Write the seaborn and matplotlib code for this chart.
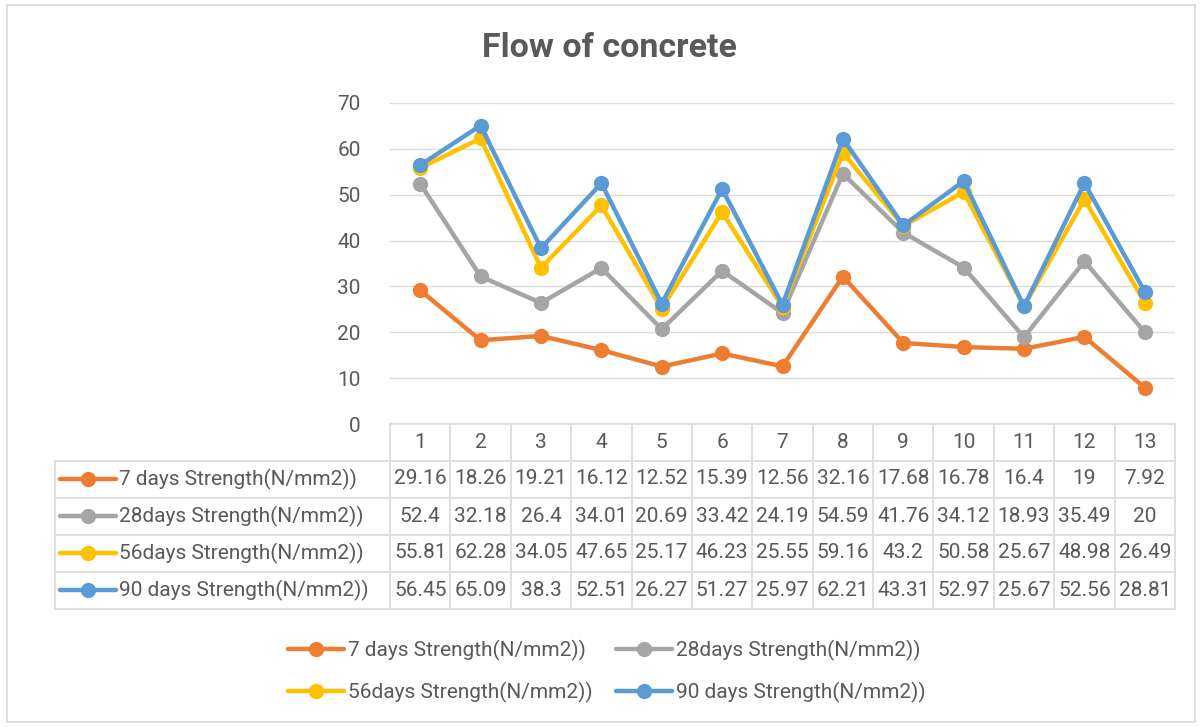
import numpy as np
import pandas as pd
import matplotlib
matplotlib.use("Agg")
import matplotlib.pyplot as plt
from matplotlib.lines import Line2D
from matplotlib.patches import Rectangle
import seaborn as sns

categories = [str(i) for i in range(1, 14)]
series_names = ["7 days Strength(N/mm2))", "28days Strength(N/mm2))",
                "56days Strength(N/mm2))", "90 days Strength(N/mm2))"]
s7 = [29.16, 18.26, 19.21, 16.12, 12.52, 15.39, 12.56, 32.16, 17.68, 16.78, 16.4, 19, 7.92]
s28 = [52.4, 32.18, 26.4, 34.01, 20.69, 33.42, 24.19, 54.59, 41.76, 34.12, 18.93, 35.49, 20]
s56 = [55.81, 62.28, 34.05, 47.65, 25.17, 46.23, 25.55, 59.16, 43.2, 50.58, 25.67, 48.98, 26.49]
s90 = [56.45, 65.09, 38.3, 52.51, 26.27, 51.27, 25.97, 62.21, 43.31, 52.97, 25.67, 52.56, 28.81]
table_text = [
    ["29.16", "18.26", "19.21", "16.12", "12.52", "15.39", "12.56", "32.16", "17.68", "16.78", "16.4", "19", "7.92"],
    ["52.4", "32.18", "26.4", "34.01", "20.69", "33.42", "24.19", "54.59", "41.76", "34.12", "18.93", "35.49", "20"],
    ["55.81", "62.28", "34.05", "47.65", "25.17", "46.23", "25.55", "59.16", "43.2", "50.58", "25.67", "48.98", "26.49"],
    ["56.45", "65.09", "38.3", "52.51", "26.27", "51.27", "25.97", "62.21", "43.31", "52.97", "25.67", "52.56", "28.81"],
]
y_ticks = [0, 10, 20, 30, 40, 50, 60, 70]
colors = ["#ED7D31", "#A5A5A5", "#FFC000", "#5B9BD5"]
title = "Flow of concrete"

sns.set_theme(style="white")
FONT = ["Roboto", "DejaVu Sans"]
plt.rcParams["font.family"] = FONT
TXT = "#595959"
GRID = "#DCDCDC"
FS = 15

W, H = 1201, 727
fig = plt.figure(figsize=(W / 100, H / 100), dpi=100)

def fx(x):
    return x / W

def fy(y):
    return 1 - y / H

# plot area
x0, x1 = 390, 1175
ytop, ybot = 103, 424
ax = fig.add_axes([fx(x0), fy(ybot), fx(x1) - fx(x0), (ybot - ytop) / H])

rows = []
for name, vals in zip(series_names, [s7, s28, s56, s90]):
    for c, v in zip(categories, vals):
        rows.append({"cat": int(c), "value": v, "series": name})
df = pd.DataFrame(rows)

sns.lineplot(data=df, x="cat", y="value", hue="series", hue_order=series_names,
             palette=colors, marker="o", markersize=11, markeredgewidth=0,
             linewidth=3.2, legend=False, ax=ax)

ax.set_xlim(0.5, 13.5)
ax.set_ylim(0, 70)
ax.set_yticks(y_ticks)
ax.set_yticklabels([str(t) for t in y_ticks])
ax.set_xticks([])
ax.set_xlabel("")
ax.set_ylabel("")
ax.grid(axis="y", color=GRID, linewidth=1.0)
ax.set_axisbelow(True)
for sp in ax.spines.values():
    sp.set_visible(False)
ax.tick_params(axis="y", length=0, pad=21, labelsize=FS, labelcolor=TXT)
ax.patch.set_alpha(0)

# title
fig.text(fx(609), fy(48), title, ha="center", va="center", fontsize=24.5,
         fontweight="bold", color=TXT)

# data table
col_w = (x1 - x0) / 13
row_lines = [424, 460.5, 497.5, 534.5, 571.5, 608.5]
lab_x0 = 55
lw = 1.3

def hline(xa, xb, y):
    fig.add_artist(Line2D([fx(xa), fx(xb)], [fy(y), fy(y)], color=GRID, lw=lw))

def vline(x, ya, yb):
    fig.add_artist(Line2D([fx(x), fx(x)], [fy(ya), fy(yb)], color=GRID, lw=lw))

hline(x0, x1, row_lines[0])
for y in row_lines[1:]:
    hline(lab_x0, x1, y)
for k in range(14):
    vline(x0 + k * col_w, row_lines[0], row_lines[-1])
vline(lab_x0, row_lines[1], row_lines[-1])

for k, c in enumerate(categories):
    fig.text(fx(x0 + (k + 0.5) * col_w), fy((row_lines[0] + row_lines[1]) / 2), c,
             ha="center", va="center", fontsize=FS, color=TXT)

for r, (name, col) in enumerate(zip(series_names, colors)):
    yc = (row_lines[r + 1] + row_lines[r + 2]) / 2
    fig.add_artist(Line2D([fx(60), fx(116)], [fy(yc), fy(yc)], color=col, lw=3.2))
    fig.add_artist(Line2D([fx(88)], [fy(yc)], color=col, marker="o", markersize=11,
                          markeredgewidth=0))
    fig.text(fx(119), fy(yc), name, ha="left", va="center", fontsize=FS, color=TXT)
    for k, t in enumerate(table_text[r]):
        fig.text(fx(x0 + (k + 0.5) * col_w), fy(yc), t, ha="center", va="center",
                 fontsize=FS, color=TXT)

# legend
handles = [Line2D([0], [0], color=c, lw=3.2, marker="o", markersize=11,
                  markeredgewidth=0) for c in colors]
order = [0, 2, 1, 3]
fig.legend([handles[i] for i in order], [series_names[i] for i in order],
           loc="center", bbox_to_anchor=(fx(607), fy(671)), ncol=2, frameon=False,
           fontsize=FS, labelcolor=TXT, handlelength=2.7, handletextpad=0.2,
           columnspacing=1.1, labelspacing=1.0)

# chart border
fig.add_artist(Rectangle((fx(7), fy(722)), fx(1195) - fx(7), fy(5) - fy(722),
                         fill=False, edgecolor=GRID, lw=1.3))

fig.savefig("out.png", dpi=100)
